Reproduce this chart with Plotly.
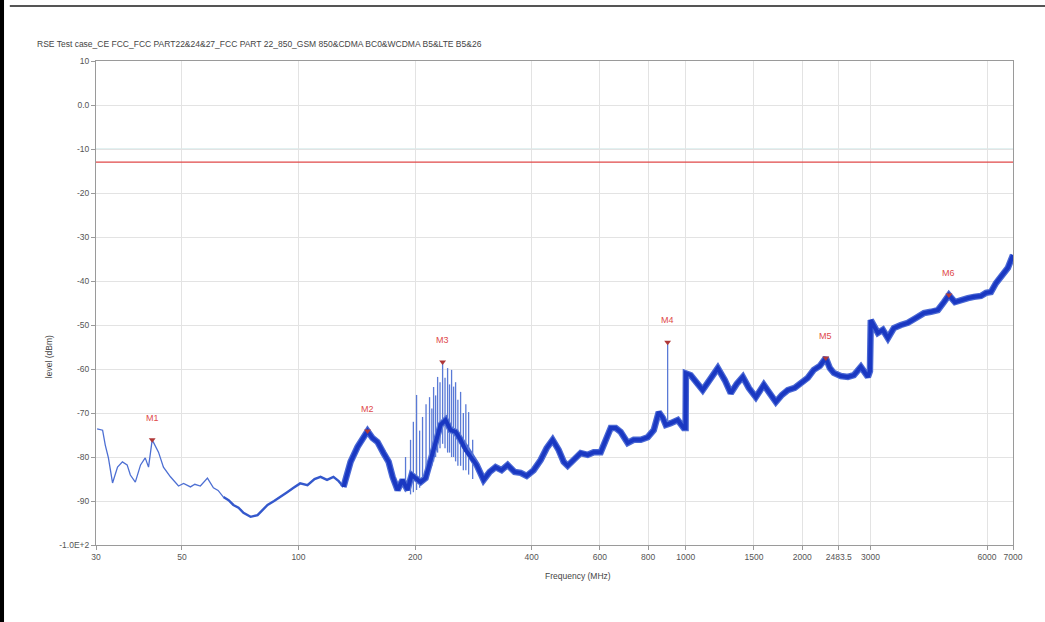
import numpy as np
import plotly.graph_objects as go

# ---------------- data ----------------
freq_mhz = [30.2, 31.2, 31.7, 32.3, 33.1, 34.1, 35.1, 36.1, 36.8, 37.9, 39.1, 40.2, 41.0, 41.9,
            43.5, 44.8, 46.7, 49.0, 50.5, 52.6, 54.0, 55.8, 58.2, 60.3, 62.0, 64.0, 66.0, 67.9,
            70.0, 72.1, 75.2, 78.4, 81.0, 83.2, 86.5, 89.8, 93.5, 97.1, 101.0, 105.5, 110.0,
            114.0, 118.5, 123.1, 127.0, 130.7, 136.3, 142.1, 146.4, 150.8, 155.3, 160.0, 165.8,
            170.9, 175.0, 180.3, 185.7, 191.2, 195.9, 200.6, 206.7, 212.9, 219.4, 225.9, 232.8,
            239.8, 247.1, 254.6, 262.2, 270.1, 278.3, 288.4, 300.6, 311.5, 322.8, 334.5, 346.8,
            361.5, 374.7, 388.3, 404.8, 422.0, 437.3, 453.2, 469.7, 484.0, 495.6, 513.6, 535.5,
            558.3, 578.6, 603.2, 621.4, 640.2, 659.5, 679.2, 708.2, 733.9, 765.1, 797.7, 826.8,
            851.7, 872.3, 888.0, 914.8, 953.5, 988.1, 999.0, 1001.0, 1030, 1106, 1160, 1210,
            1261, 1307, 1354, 1404, 1455, 1517, 1591, 1649, 1709, 1771, 1834, 1912, 1982, 2067,
            2141, 2220, 2300, 2356, 2412, 2515, 2622, 2718, 2833, 2954, 2990, 3005, 3134, 3228,
            3327, 3447, 3594, 3746, 3930, 4121, 4297, 4479, 4642, 4782, 4956, 5135, 5355, 5549,
            5785, 5961, 6140, 6324, 6516, 6792, 7000]
level_dbm = [-73.6, -73.9, -77.3, -80.2, -85.9, -82.3, -81.1, -81.8, -84.1, -85.7, -81.8, -80.2,
             -82.3, -76.1, -78.9, -82.3, -84.5, -86.6, -86.0, -86.8, -86.2, -86.6, -84.8, -87.0,
             -87.6, -89.1, -89.8, -90.9, -91.5, -92.7, -93.6, -93.2, -91.8, -90.9, -90.0, -89.1,
             -88.0, -87.0, -86.0, -86.4, -85.0, -84.5, -85.2, -84.5, -85.5, -86.8, -81.1, -77.7,
             -75.7, -74.1, -75.7, -76.6, -79.1, -81.1, -84.5, -87.5, -85.2, -87.5, -84.1, -84.8,
             -85.7, -84.8, -80.7, -77.3, -72.7, -71.6, -73.9, -74.3, -76.1, -78.4, -80.0, -81.8,
             -85.2, -83.4, -82.3, -83.0, -81.8, -83.4, -83.6, -84.3, -83.0, -80.7, -78.0, -76.1,
             -78.4, -81.1, -82.0, -80.7, -79.1, -79.5, -78.9, -78.9, -76.1, -73.4, -73.4, -74.3,
             -76.8, -76.1, -76.1, -75.5, -73.9, -69.8, -71.1, -72.7, -72.3, -71.6, -73.4, -73.4,
             -61.0, -61.4, -64.8, -62.0, -59.8, -62.5, -65.5, -63.4, -61.8, -64.3, -66.4, -63.6,
             -65.5, -67.5, -65.9, -64.8, -64.3, -63.2, -62.0, -60.2, -59.3, -57.5, -59.8, -60.9,
             -61.6, -61.8, -61.4, -59.5, -61.8, -60.5, -48.9, -51.8, -51.1, -53.0, -50.7, -50.0,
             -49.5, -48.4, -47.3, -47.0, -46.6, -44.8, -43.2, -44.8, -44.3, -43.9, -43.6, -43.4,
             -42.7, -42.5, -40.5, -39.1, -37.0, -34.1]

# spiky emissions around 200-300 MHz and the M4 spike
spike_mhz = [189.0, 194.7, 198.0, 201.8, 205.5, 209.1, 213.5, 218.0, 221.0, 223.3, 226.0, 228.7,
             232.0, 235.6, 239.0, 242.7, 245.5, 248.5, 251.5, 254.5, 258.0, 262.2, 266.5, 270.5,
             275.0, 281.7, 898.0]
spike_peak = [-80.0, -76.1, -72.0, -65.9, -74.0, -70.9, -68.0, -66.4, -69.0, -64.1, -66.0, -61.8,
              -63.0, -58.4, -62.0, -59.8, -63.5, -60.2, -64.0, -63.0, -67.0, -65.2, -70.0, -68.0,
              -69.8, -76.1, -53.9]
spike_low = [-88.0, -88.5, -88.0, -87.5, -87.0, -86.0, -84.0, -83.0, -82.0, -81.0, -80.0, -79.0,
             -78.0, -77.0, -78.0, -79.0, -79.0, -80.0, -80.0, -81.0, -82.0, -82.0, -83.0, -83.0,
             -84.0, -85.0, -72.5]

marker_names = ["M1", "M2", "M3", "M4", "M5", "M6"]
marker_mhz = [41.9, 150.8, 235.6, 898.0, 2300.0, 4782.0]
marker_dbm = [-76.1, -74.1, -58.4, -53.9, -57.5, -43.2]

limit_dbm = -13.0

x_tick_vals = [30, 50, 100, 200, 400, 600, 800, 1000, 1500, 2000, 2483.5, 3000, 6000, 7000]
x_tick_text = ["30", "50", "100", "200", "400", "600", "800", "1000", "1500", "2000", "2483.5",
               "3000", "6000", "7000"]
y_tick_vals = [10, 0, -10, -20, -30, -40, -50, -60, -70, -80, -90, -100]
y_tick_text = ["10", "0.0", "-10", "-20", "-30", "-40", "-50", "-60", "-70", "-80", "-90", "-1.0E+2"]

title_text = "RSE Test case_CE FCC_FCC PART22&24&27_FCC PART 22_850_GSM 850&CDMA BC0&WCDMA B5&LTE B5&26"

# ---------------- figure ----------------
f = np.array(freq_mhz)
v = np.array(level_dbm)
FONT = "Liberation Sans"

fig = go.Figure()

seg_thin = f <= 64.5
seg_mid = (f >= 64) & (f <= 131)
seg_thick = f >= 130.7

# soft halo under the noisy part of the trace
fig.add_trace(go.Scatter(x=f[seg_thick], y=v[seg_thick], mode="lines",
                         line=dict(color="#4a68d4", width=6.5), hoverinfo="skip", showlegend=False))

# spikes (thin, lighter)
sx, sy = [], []
for fx, lo, hi in zip(spike_mhz, spike_low, spike_peak):
    sx += [fx, fx, None]
    sy += [lo, hi, None]
fig.add_trace(go.Scatter(x=sx, y=sy, mode="lines", line=dict(color="#5a7ad6", width=1.3),
                         hoverinfo="skip", showlegend=False))

fig.add_trace(go.Scatter(x=f[seg_thin], y=v[seg_thin], mode="lines",
                         line=dict(color="#4d6fd3", width=1.3), showlegend=False))
fig.add_trace(go.Scatter(x=f[seg_mid], y=v[seg_mid], mode="lines",
                         line=dict(color="#3458cc", width=2.4), showlegend=False))
fig.add_trace(go.Scatter(x=f[seg_thick], y=v[seg_thick], mode="lines",
                         line=dict(color="#1a38c2", width=4), showlegend=False))

# limit line
fig.add_trace(go.Scatter(x=[30, 7000], y=[limit_dbm, limit_dbm], mode="lines",
                         line=dict(color="#e04848", width=1.2), showlegend=False))

# markers
fig.add_trace(go.Scatter(x=marker_mhz, y=marker_dbm, mode="markers",
                         marker=dict(symbol="triangle-down", size=6, color="#b03838"),
                         showlegend=False))
for name, mx, my in zip(marker_names, marker_mhz, marker_dbm):
    fig.add_annotation(x=np.log10(mx), y=my, text=name, showarrow=False, yshift=22,
                       font=dict(family=FONT, size=9, color="#e04a4a"))

# titles
fig.add_annotation(xref="paper", yref="paper", x=-0.0665, y=1.035, xanchor="left", yanchor="middle",
                   text=title_text, showarrow=False, font=dict(family=FONT, size=8.5, color="#444"))
fig.add_annotation(xref="paper", yref="paper", x=-0.059, y=0.39, text="level (dBm)", textangle=-90,
                   showarrow=False, font=dict(family=FONT, size=8.5, color="#444"))
fig.add_annotation(xref="paper", yref="paper", x=0.5256, y=-0.0785, text="Frequency (MHz)",
                   showarrow=False, font=dict(family=FONT, size=8.5, color="#444"))

# frame decorations
fig.add_shape(type="rect", xref="paper", yref="paper", x0=-0.1047, x1=-0.1003, y0=-0.16, y1=1.13,
              fillcolor="black", line=dict(width=0), layer="above")
fig.add_shape(type="line", xref="paper", yref="paper", x0=-0.094, x1=1.04, y0=1.1136, y1=1.1136,
              line=dict(color="#555", width=2))
fig.add_shape(type="line", xref="paper", y0=-10, y1=-10, x0=0, x1=1,
              line=dict(color="#c5e3e3", width=1), layer="below")

fig.update_xaxes(type="log", range=[np.log10(30), np.log10(7000)], tickvals=x_tick_vals,
                 ticktext=x_tick_text, showgrid=True, gridcolor="#e3e3e3", gridwidth=1,
                 showline=True, linecolor="#9a9a9a", linewidth=1, mirror=True,
                 ticks="outside", ticklen=4, tickcolor="#9a9a9a",
                 tickfont=dict(family=FONT, size=8.5, color="#555"), zeroline=False)
fig.update_yaxes(range=[-100, 10], tickvals=y_tick_vals, ticktext=y_tick_text,
                 showgrid=True, gridcolor="#e3e3e3", gridwidth=1,
                 showline=True, linecolor="#9a9a9a", linewidth=1, mirror=True,
                 ticks="outside", ticklen=4, tickcolor="#9a9a9a",
                 tickfont=dict(family=FONT, size=8.5, color="#555"), zeroline=False)

fig.update_layout(width=1045, height=622, margin=dict(l=96, r=32, t=61, b=77),
                  paper_bgcolor="white", plot_bgcolor="white", showlegend=False)

fig.write_html("out.html", config={"displayModeBar": False},
               post_script="document.body.style.margin='0px';")
